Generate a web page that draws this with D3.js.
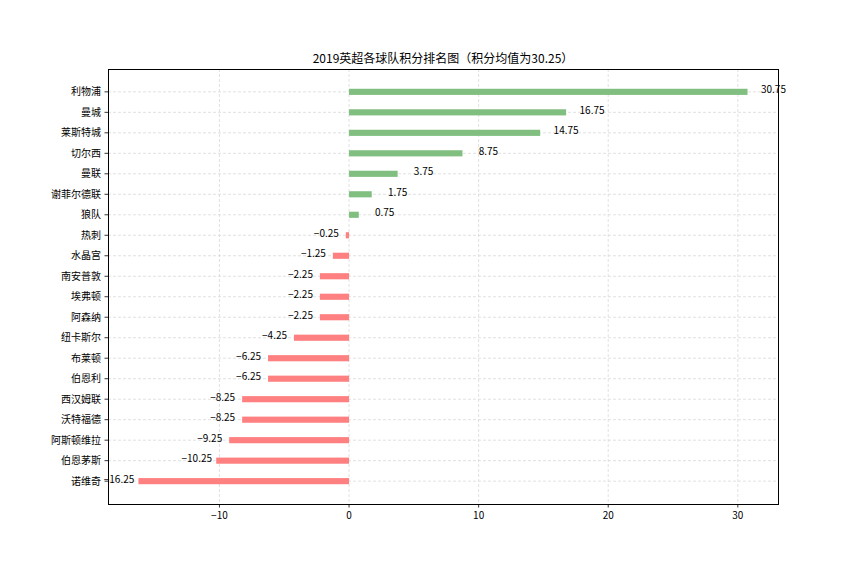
<!DOCTYPE html>
<html>
<head>
<meta charset="utf-8">
<script src="https://cdn.jsdelivr.net/npm/d3@7/dist/d3.min.js"></script>
<style>
  body { margin: 0; background: #fff; }
  text { font-family: "SimHei", "Noto Sans CJK SC", sans-serif; }
</style>
</head>
<body>
<svg id="chart" width="864" height="576"></svg>
<script>
const teams = ["利物浦","曼城","莱斯特城","切尔西","曼联","谢菲尔德联","狼队","热刺","水晶宫","南安普敦","埃弗顿","阿森纳","纽卡斯尔","布莱顿","伯恩利","西汉姆联","沃特福德","阿斯顿维拉","伯恩茅斯","诺维奇"];
const diffs = [30.75,16.75,14.75,8.75,3.75,1.75,0.75,-0.25,-1.25,-2.25,-2.25,-2.25,-4.25,-6.25,-6.25,-8.25,-8.25,-9.25,-10.25,-16.25];
const xTicks = [-10, 0, 10, 20, 30];
const titleText = "2019英超各球队积分排名图（积分均值为30.25）";

const svg = d3.select("#chart");
const L = 108, R = 778, T = 69, B = 504;
const barH = 0.3;

const xmin = d3.min(diffs), xmax = d3.max(diffs);
const xpad = (xmax - xmin) * 0.05;
const x = d3.scaleLinear().domain([xmin - xpad, xmax + xpad]).range([L, R]);

const n = teams.length;
const ylo = -barH / 2, yhi = (n - 1) + barH / 2;
const ypad = (yhi - ylo) * 0.05;
const y = d3.scaleLinear().domain([ylo - ypad, yhi + ypad]).range([T, B]);

// grid
const grid = svg.append("g");
xTicks.forEach(t => {
  grid.append("line").attr("x1", x(t)).attr("x2", x(t)).attr("y1", T).attr("y2", B)
    .attr("stroke", "#d9d9d9").attr("stroke-width", 0.8).attr("stroke-dasharray", "3,2");
});
teams.forEach((t, i) => {
  grid.append("line").attr("x1", L).attr("x2", R).attr("y1", y(i)).attr("y2", y(i))
    .attr("stroke", "#d9d9d9").attr("stroke-width", 0.8).attr("stroke-dasharray", "3,2");
});

// bars
svg.append("g").selectAll("rect").data(diffs).join("rect")
  .attr("x", d => x(Math.min(0, d)))
  .attr("width", d => Math.abs(x(d) - x(0)))
  .attr("y", (d, i) => y(i - barH / 2))
  .attr("height", y(barH) - y(0))
  .attr("fill", d => d > 0 ? "#80bf80" : "#ff8080");

// value labels
svg.append("g").selectAll("text").data(diffs).join("text")
  .attr("x", d => d > 0 ? x(d + 2) : x(d - 1.5))
  .attr("y", (d, i) => y(i) - 2)
  .attr("dy", "0.35em")
  .attr("text-anchor", "middle")
  .attr("font-size", 10)
  .attr("fill", "#000")
  .text(d => d.toFixed(2).replace("-", "\u2212"));

// spines
svg.append("rect").attr("x", L + 0.5).attr("y", T + 0.5).attr("width", R - L).attr("height", B - T)
  .attr("fill", "none").attr("stroke", "#000").attr("stroke-width", 1)
  .attr("shape-rendering", "crispEdges");

// x axis
const xg = svg.append("g");
xTicks.forEach(t => {
  xg.append("line").attr("x1", x(t)).attr("x2", x(t)).attr("y1", B).attr("y2", B + 3.5)
    .attr("stroke", "#000").attr("stroke-width", 0.8);
  xg.append("text").attr("x", x(t)).attr("y", B + 3.5 + 3.5).attr("dy", "0.8em")
    .attr("text-anchor", "middle").attr("font-size", 10)
    .text(String(t).replace("-", "\u2212"));
});

// y axis
const yg = svg.append("g");
teams.forEach((t, i) => {
  yg.append("line").attr("x1", L - 3.5).attr("x2", L).attr("y1", y(i)).attr("y2", y(i))
    .attr("stroke", "#000").attr("stroke-width", 0.8);
  yg.append("text").attr("x", L - 3.5 - 3.5).attr("y", y(i)).attr("dy", "0.35em")
    .attr("text-anchor", "end").attr("font-size", 10).text(t);
});

// title
svg.append("text").attr("x", (L + R) / 2).attr("y", T - 6)
  .attr("text-anchor", "middle").attr("font-size", 12).text(titleText);
</script>
</body>
</html>
